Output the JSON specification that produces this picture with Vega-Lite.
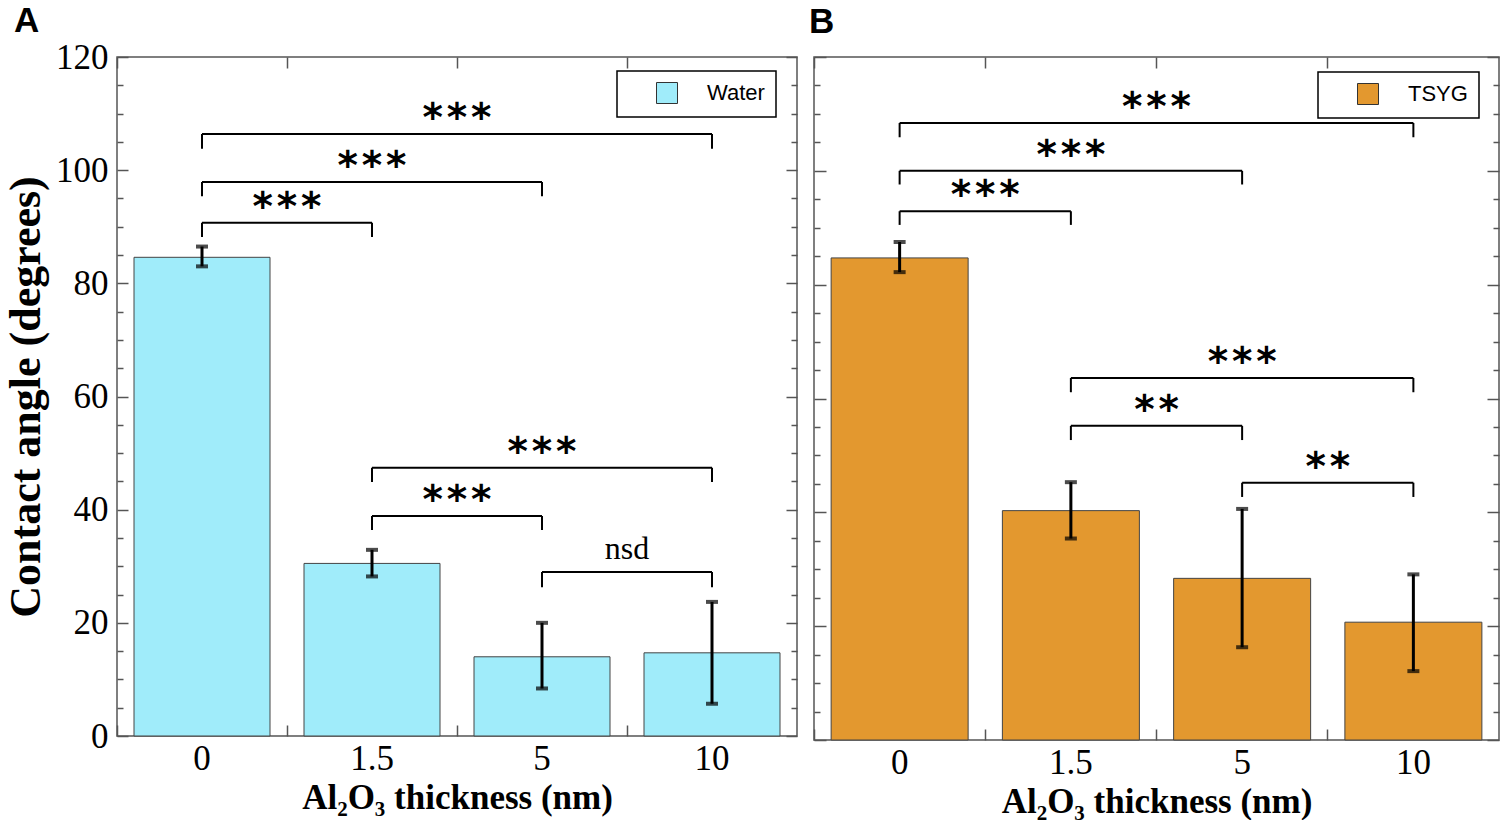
{
  "$schema": "https://vega.github.io/schema/vega-lite/v6.json",
  "padding": {"left": 3, "top": 3, "right": 5, "bottom": 0},
  "background": "white",
  "datasets": {
    "bars": [
      {"panel": "A", "liquid": "Water", "thickness": "0", "angle": 84.6, "lo": 83.0, "hi": 86.5},
      {"panel": "A", "liquid": "Water", "thickness": "1.5", "angle": 30.5, "lo": 28.2, "hi": 32.9},
      {"panel": "A", "liquid": "Water", "thickness": "5", "angle": 14.0, "lo": 8.4, "hi": 20.0},
      {"panel": "A", "liquid": "Water", "thickness": "10", "angle": 14.7, "lo": 5.7, "hi": 23.7},
      {"panel": "B", "liquid": "TSYG", "thickness": "0", "angle": 84.7, "lo": 82.2, "hi": 87.5},
      {"panel": "B", "liquid": "TSYG", "thickness": "1.5", "angle": 40.3, "lo": 35.4, "hi": 45.3},
      {"panel": "B", "liquid": "TSYG", "thickness": "5", "angle": 28.4, "lo": 16.3, "hi": 40.6},
      {"panel": "B", "liquid": "TSYG", "thickness": "10", "angle": 20.7, "lo": 12.1, "hi": 29.1}
    ],
    "brackets": [
      {"panel": "A", "from": "0", "to": "1.5", "h": 90.7, "drop": 88.2, "label": "*\u200a*\u200a*"},
      {"panel": "A", "from": "0", "to": "5", "h": 97.9, "drop": 95.4, "label": "*\u200a*\u200a*"},
      {"panel": "A", "from": "0", "to": "10", "h": 106.4, "drop": 103.8, "label": "*\u200a*\u200a*"},
      {"panel": "A", "from": "1.5", "to": "10", "h": 47.4, "drop": 44.9, "label": "*\u200a*\u200a*"},
      {"panel": "A", "from": "1.5", "to": "5", "h": 38.9, "drop": 36.4, "label": "*\u200a*\u200a*"},
      {"panel": "A", "from": "5", "to": "10", "h": 29.0, "drop": 26.3, "label": "nsd"},
      {"panel": "B", "from": "0", "to": "1.5", "h": 92.9, "drop": 90.5, "label": "*\u200a*\u200a*"},
      {"panel": "B", "from": "0", "to": "5", "h": 100.0, "drop": 97.6, "label": "*\u200a*\u200a*"},
      {"panel": "B", "from": "0", "to": "10", "h": 108.4, "drop": 105.9, "label": "*\u200a*\u200a*"},
      {"panel": "B", "from": "1.5", "to": "10", "h": 63.6, "drop": 61.1, "label": "*\u200a*\u200a*"},
      {"panel": "B", "from": "1.5", "to": "5", "h": 55.2, "drop": 52.7, "label": "*\u200a*"},
      {"panel": "B", "from": "5", "to": "10", "h": 45.2, "drop": 42.7, "label": "*\u200a*"}
    ]
  },
  "spacing": 9,
  "resolve": {"scale": {"color": "independent", "x": "independent", "y": "independent"}},
  "hconcat": [
    {
      "width": 680,
      "height": 679,
      "title": {"text": "A", "anchor": "start", "frame": "group", "font": "Liberation Sans", "fontSize": 35, "fontWeight": "bold", "color": "black", "offset": 1, "dx": -103},
      "resolve": {"scale": {"x": "independent", "xOffset": "independent"}, "axis": {"x": "independent", "y": "independent"}},
      "layer": [
        {
          "resolve": {"axis": {"x": "independent", "y": "independent"}},
          "layer": [
            {
              "data": {"name": "bars"},
              "transform": [{"filter": "datum.panel === 'A'"}],
              "mark": {"type": "bar", "stroke": "#444", "strokeWidth": 1},
              "encoding": {
                "x": {"field": "thickness", "type": "nominal", "scale": {"domain": ["0", "1.5", "5", "10"], "paddingInner": 0.2, "paddingOuter": 0.1},
                      "axis": {"orient": "bottom", "title": "Al₂O₃ thickness (nm)", "titleFontSize": 35, "titlePadding": 4, "labelAngle": 0, "ticks": false, "labelPadding": 5}},
                "y": {"field": "angle", "type": "quantitative", "scale": {"domain": [0, 120], "nice": false},
                      "axis": {"orient": "left", "title": "Contact angle (degrees)", "titleFontSize": 44, "titlePadding": 7, "values": [0, 20, 40, 60, 80, 100, 120], "tickSize": -11, "labelPadding": 20}},
                "color": {"field": "liquid", "type": "nominal", "scale": {"range": ["#a0ecfa"]},
                          "legend": {"orient": "none", "legendX": 500, "legendY": 14, "title": null}}
              }
            },
            {
              "data": {"name": "bars"},
              "transform": [{"filter": "datum.panel === 'A'"}],
              "mark": {"type": "rule", "color": "black", "strokeWidth": 3},
              "encoding": {
                "x": {"field": "thickness", "type": "nominal", "scale": {"domain": ["0", "1.5", "5", "10"]},
                      "axis": {"orient": "top", "labels": false, "title": null, "bandPosition": -0.125, "tickSize": -11}},
                "y": {"field": "lo", "type": "quantitative", "axis": {"orient": "left", "labels": false, "title": null, "values": [5, 10, 15, 25, 30, 35, 45, 50, 55, 65, 70, 75, 85, 90, 95, 105, 110, 115], "tickSize": -6}},
                "y2": {"field": "hi"}
              }
            },
            {
              "data": {"name": "bars"},
              "transform": [{"filter": "datum.panel === 'A'"}],
              "mark": {"type": "tick", "color": "black", "size": 12, "thickness": 4},
              "encoding": {
                "x": {"field": "thickness", "type": "nominal", "scale": {"domain": ["0", "1.5", "5", "10"]},
                      "axis": {"orient": "bottom", "labels": false, "title": null, "bandPosition": -0.125, "tickSize": -11}},
                "y": {"field": "lo", "type": "quantitative", "axis": {"orient": "right", "labels": false, "title": null, "values": [0, 20, 40, 60, 80, 100, 120], "tickSize": -11}}
              }
            },
            {
              "data": {"name": "bars"},
              "transform": [{"filter": "datum.panel === 'A'"}],
              "mark": {"type": "tick", "color": "black", "size": 12, "thickness": 4},
              "encoding": {
                "x": {"field": "thickness", "type": "nominal", "scale": {"domain": ["0", "1.5", "5", "10"]}, "axis": null},
                "y": {"field": "hi", "type": "quantitative", "axis": {"orient": "right", "labels": false, "title": null, "values": [5, 10, 15, 25, 30, 35, 45, 50, 55, 65, 70, 75, 85, 90, 95, 105, 110, 115], "tickSize": -6}}
              }
            },
            {
              "data": {"name": "brackets"},
              "transform": [{"filter": "datum.panel === 'A'"}],
              "mark": {"type": "rule", "color": "black", "strokeWidth": 2},
              "encoding": {
                "x": {"field": "from", "type": "nominal", "scale": {"domain": ["0", "1.5", "5", "10"]}, "axis": null},
                "x2": {"field": "to"},
                "y": {"field": "h", "type": "quantitative", "axis": null}
              }
            },
            {
              "data": {"name": "brackets"},
              "transform": [{"filter": "datum.panel === 'A'"}],
              "mark": {"type": "rule", "color": "black", "strokeWidth": 2},
              "encoding": {
                "x": {"field": "from", "type": "nominal", "scale": {"domain": ["0", "1.5", "5", "10"]}, "axis": null},
                "y": {"field": "drop", "type": "quantitative", "axis": null},
                "y2": {"field": "h"}
              }
            },
            {
              "data": {"name": "brackets"},
              "transform": [{"filter": "datum.panel === 'A'"}],
              "mark": {"type": "rule", "color": "black", "strokeWidth": 2},
              "encoding": {
                "x": {"field": "to", "type": "nominal", "scale": {"domain": ["0", "1.5", "5", "10"]}, "axis": null},
                "y": {"field": "drop", "type": "quantitative", "axis": null},
                "y2": {"field": "h"}
              }
            }
          ]
        },
        {
          "layer": [
            {
              "data": {"name": "brackets"},
              "transform": [
                {"filter": "datum.panel === 'A' && datum.label !== 'nsd'"},
                {"calculate": "indexof(['0','1.5','5','10'], datum.to) - indexof(['0','1.5','5','10'], datum.from)", "as": "span"}
              ],
              "mark": {"type": "text", "font": "DejaVu Sans", "fontWeight": "bold", "fontSize": 39, "baseline": "alphabetic", "dy": -3, "color": "black"},
              "encoding": {
                "x": {"field": "from", "type": "nominal", "scale": {"type": "band", "domain": ["0", "1.5", "5", "10"], "paddingInner": 0.2, "paddingOuter": 0.1}, "axis": null},
                "xOffset": {"field": "span", "type": "quantitative", "scale": {"domain": [0, 3], "range": [68, 323]}},
                "y": {"field": "h", "type": "quantitative", "axis": null},
                "text": {"field": "label"}
              }
            },
            {
              "data": {"name": "brackets"},
              "transform": [
                {"filter": "datum.panel === 'A' && datum.label === 'nsd'"},
                {"calculate": "indexof(['0','1.5','5','10'], datum.to) - indexof(['0','1.5','5','10'], datum.from)", "as": "span"}
              ],
              "mark": {"type": "text", "font": "Liberation Serif", "fontSize": 32, "baseline": "alphabetic", "dy": -13, "color": "black"},
              "encoding": {
                "x": {"field": "from", "type": "nominal", "scale": {"type": "band", "domain": ["0", "1.5", "5", "10"], "paddingInner": 0.2, "paddingOuter": 0.1}, "axis": null},
                "xOffset": {"field": "span", "type": "quantitative", "scale": {"domain": [0, 3], "range": [68, 323]}},
                "y": {"field": "h", "type": "quantitative", "axis": null},
                "text": {"field": "label"}
              }
            }
          ]
        }
      ]
    },
    {
      "width": 685,
      "height": 683,
      "title": {"text": "B", "anchor": "start", "frame": "group", "font": "Liberation Sans", "fontSize": 35, "fontWeight": "bold", "color": "black", "offset": 16, "dx": -5},
      "resolve": {"scale": {"x": "independent", "xOffset": "independent"}, "axis": {"x": "independent", "y": "independent"}},
      "layer": [
        {
          "resolve": {"axis": {"x": "independent", "y": "independent"}},
          "layer": [
            {
              "data": {"name": "bars"},
              "transform": [{"filter": "datum.panel === 'B'"}],
              "mark": {"type": "bar", "stroke": "#444", "strokeWidth": 1},
              "encoding": {
                "x": {"field": "thickness", "type": "nominal", "scale": {"domain": ["0", "1.5", "5", "10"], "paddingInner": 0.2, "paddingOuter": 0.1},
                      "axis": {"orient": "bottom", "title": "Al₂O₃ thickness (nm)", "titleFontSize": 35, "titlePadding": 4, "labelAngle": 0, "ticks": false, "labelPadding": 5}},
                "y": {"field": "angle", "type": "quantitative", "scale": {"domain": [0, 120], "nice": false},
                      "axis": {"orient": "left", "labels": false, "title": null, "values": [0, 20, 40, 60, 80, 100, 120], "tickSize": -12}},
                "color": {"field": "liquid", "type": "nominal", "scale": {"range": ["#e3982f"]},
                          "legend": {"orient": "none", "legendX": 504, "legendY": 15, "title": null}}
              }
            },
            {
              "data": {"name": "bars"},
              "transform": [{"filter": "datum.panel === 'B'"}],
              "mark": {"type": "rule", "color": "black", "strokeWidth": 3},
              "encoding": {
                "x": {"field": "thickness", "type": "nominal", "scale": {"domain": ["0", "1.5", "5", "10"]},
                      "axis": {"orient": "top", "labels": false, "title": null, "bandPosition": -0.125, "tickSize": -11}},
                "y": {"field": "lo", "type": "quantitative", "axis": {"orient": "left", "labels": false, "title": null, "values": [5, 10, 15, 25, 30, 35, 45, 50, 55, 65, 70, 75, 85, 90, 95, 105, 110, 115], "tickSize": -6}},
                "y2": {"field": "hi"}
              }
            },
            {
              "data": {"name": "bars"},
              "transform": [{"filter": "datum.panel === 'B'"}],
              "mark": {"type": "tick", "color": "black", "size": 12, "thickness": 4},
              "encoding": {
                "x": {"field": "thickness", "type": "nominal", "scale": {"domain": ["0", "1.5", "5", "10"]},
                      "axis": {"orient": "bottom", "labels": false, "title": null, "bandPosition": -0.125, "tickSize": -11}},
                "y": {"field": "lo", "type": "quantitative", "axis": {"orient": "right", "labels": false, "title": null, "values": [0, 20, 40, 60, 80, 100, 120], "tickSize": -12}}
              }
            },
            {
              "data": {"name": "bars"},
              "transform": [{"filter": "datum.panel === 'B'"}],
              "mark": {"type": "tick", "color": "black", "size": 12, "thickness": 4},
              "encoding": {
                "x": {"field": "thickness", "type": "nominal", "scale": {"domain": ["0", "1.5", "5", "10"]}, "axis": null},
                "y": {"field": "hi", "type": "quantitative", "axis": {"orient": "right", "labels": false, "title": null, "values": [5, 10, 15, 25, 30, 35, 45, 50, 55, 65, 70, 75, 85, 90, 95, 105, 110, 115], "tickSize": -6}}
              }
            },
            {
              "data": {"name": "brackets"},
              "transform": [{"filter": "datum.panel === 'B'"}],
              "mark": {"type": "rule", "color": "black", "strokeWidth": 2},
              "encoding": {
                "x": {"field": "from", "type": "nominal", "scale": {"domain": ["0", "1.5", "5", "10"]}, "axis": null},
                "x2": {"field": "to"},
                "y": {"field": "h", "type": "quantitative", "axis": null}
              }
            },
            {
              "data": {"name": "brackets"},
              "transform": [{"filter": "datum.panel === 'B'"}],
              "mark": {"type": "rule", "color": "black", "strokeWidth": 2},
              "encoding": {
                "x": {"field": "from", "type": "nominal", "scale": {"domain": ["0", "1.5", "5", "10"]}, "axis": null},
                "y": {"field": "drop", "type": "quantitative", "axis": null},
                "y2": {"field": "h"}
              }
            },
            {
              "data": {"name": "brackets"},
              "transform": [{"filter": "datum.panel === 'B'"}],
              "mark": {"type": "rule", "color": "black", "strokeWidth": 2},
              "encoding": {
                "x": {"field": "to", "type": "nominal", "scale": {"domain": ["0", "1.5", "5", "10"]}, "axis": null},
                "y": {"field": "drop", "type": "quantitative", "axis": null},
                "y2": {"field": "h"}
              }
            }
          ]
        },
        {
          "data": {"name": "brackets"},
          "transform": [
            {"filter": "datum.panel === 'B'"},
            {"calculate": "indexof(['0','1.5','5','10'], datum.to) - indexof(['0','1.5','5','10'], datum.from)", "as": "span"}
          ],
          "mark": {"type": "text", "font": "DejaVu Sans", "fontWeight": "bold", "fontSize": 39, "baseline": "alphabetic", "dy": -3, "color": "black"},
          "encoding": {
            "x": {"field": "from", "type": "nominal", "scale": {"type": "band", "domain": ["0", "1.5", "5", "10"], "paddingInner": 0.2, "paddingOuter": 0.1}, "axis": null},
            "xOffset": {"field": "span", "type": "quantitative", "scale": {"domain": [0, 3], "range": [68.5, 325.4]}},
            "y": {"field": "h", "type": "quantitative", "axis": null},
            "text": {"field": "label"}
          }
        }
      ]
    }
  ],
  "config": {
    "font": "Liberation Serif",
    "view": {"stroke": "#555", "strokeWidth": 1.5},
    "axis": {"labelFont": "Liberation Serif", "labelFontSize": 35, "labelColor": "black", "titleFont": "Liberation Serif", "titleFontWeight": "bold", "titleColor": "black", "tickColor": "#555", "tickWidth": 1.5, "domain": false, "grid": false},
    "legend": {"strokeColor": "black", "strokeWidth": 1.5, "fillColor": "white", "padding": 11, "symbolType": "square", "symbolSize": 441, "symbolStrokeColor": "#333", "symbolStrokeWidth": 1, "symbolOpacity": 1, "labelFont": "Liberation Sans", "labelFontSize": 22, "labelColor": "black", "labelOffset": 29, "symbolOffset": 28}
  }
}
